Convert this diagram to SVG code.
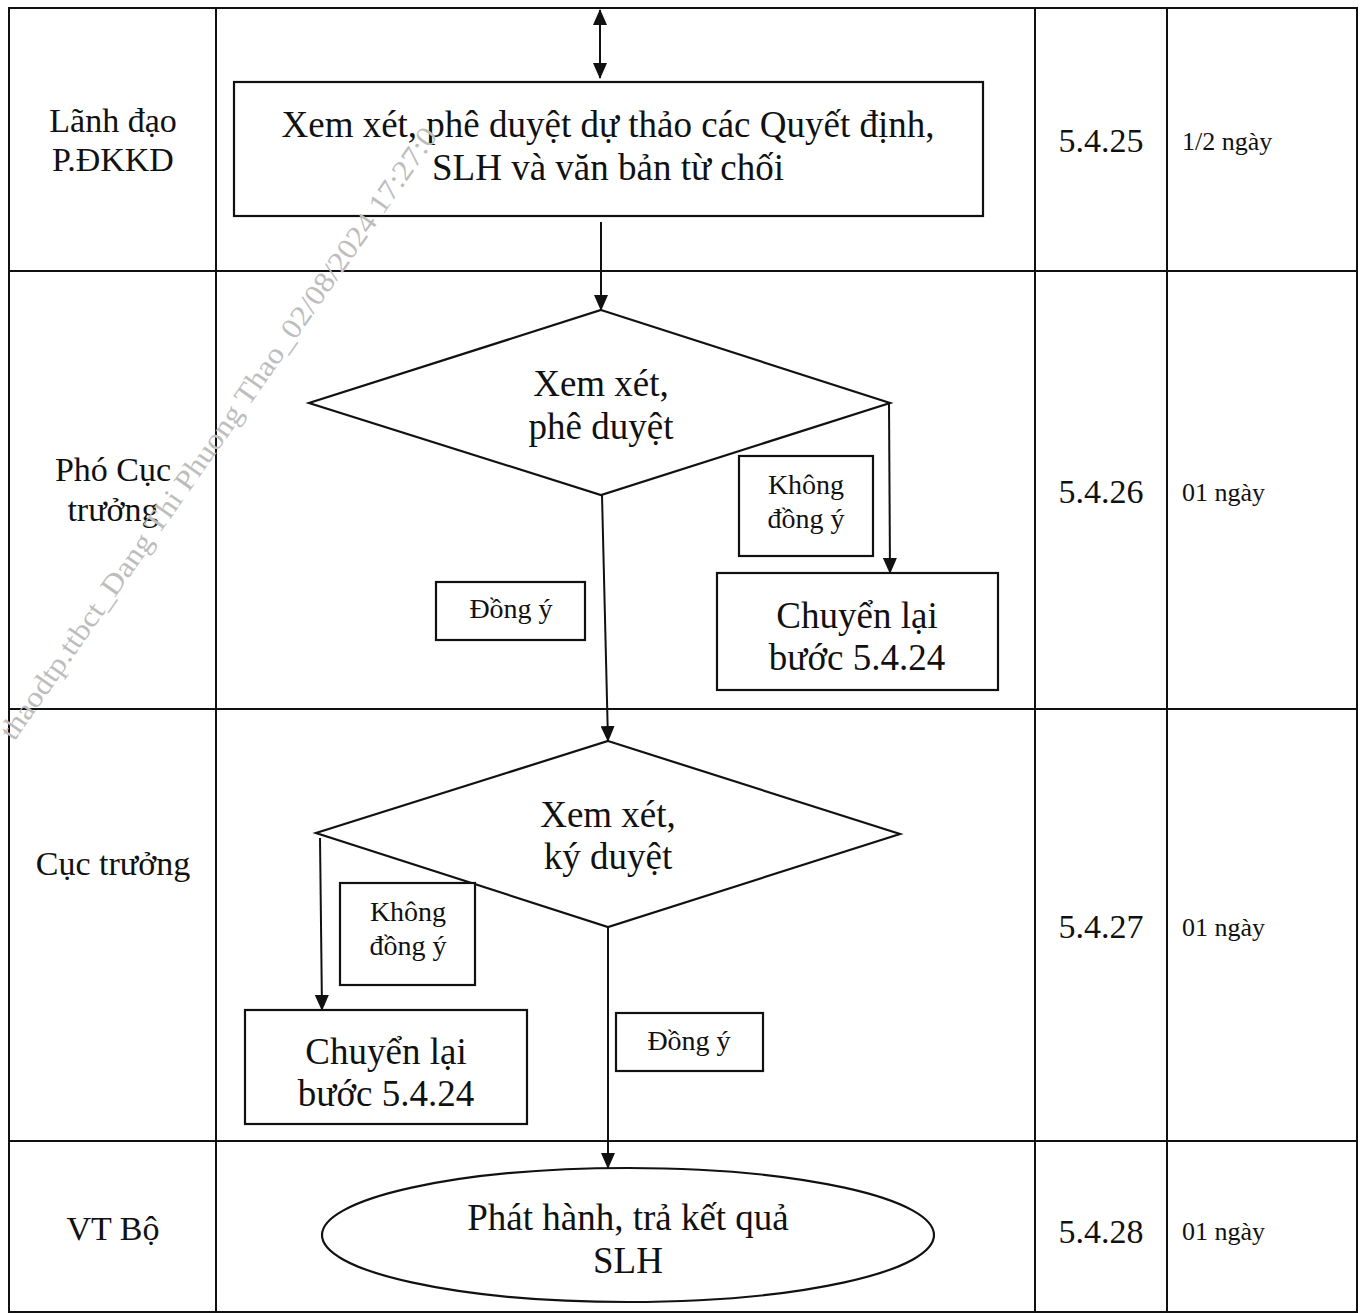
<svg xmlns="http://www.w3.org/2000/svg" width="1365" height="1313" viewBox="0 0 1365 1313">
<defs>
<style>
text{font-family:"Liberation Serif","Times New Roman",serif;fill:#111;text-anchor:middle}
.grid{stroke:#111;stroke-width:2;fill:none}
.shape{stroke:#111;stroke-width:2.2;fill:#fff}
.conn{stroke:#111;stroke-width:2;fill:none}
.main{font-size:37px}
.lane{font-size:34px}
.code{font-size:34px}
.dur{font-size:26px;text-anchor:start}
.lbl{font-size:28px}
.wm{font-size:29px;fill:#bdbdbd;text-anchor:start}
</style>
<marker id="ah" markerUnits="userSpaceOnUse" markerWidth="16" markerHeight="14" refX="15" refY="7" orient="auto-start-reverse" viewBox="0 0 16 14">
<path d="M0,0 L16,7 L0,14 z" fill="#111"/>
</marker>
</defs>
<rect width="1365" height="1313" fill="#fff"/>
<g id="table">
<rect class="grid" x="9" y="8" width="1348" height="1304"/>
<line class="grid" x1="216" y1="8" x2="216" y2="1313"/>
<line class="grid" x1="1035" y1="8" x2="1035" y2="1313"/>
<line class="grid" x1="1167" y1="8" x2="1167" y2="1313"/>
<line class="grid" x1="9" y1="271" x2="1357" y2="271"/>
<line class="grid" x1="9" y1="709" x2="1357" y2="709"/>
<line class="grid" x1="9" y1="1141" x2="1357" y2="1141"/>
</g>
<g id="lanes">
<text class="lane" x="113" y="132">Lãnh đạo</text>
<text class="lane" x="113" y="171">P.ĐKKD</text>
<text class="lane" x="113" y="481">Phó Cục</text>
<text class="lane" x="113" y="521">trưởng</text>
<text class="lane" x="113" y="875">Cục trưởng</text>
<text class="lane" x="113" y="1240">VT Bộ</text>
</g>
<g id="codes">
<text class="code" x="1101" y="152">5.4.25</text>
<text class="code" x="1101" y="503">5.4.26</text>
<text class="code" x="1101" y="938">5.4.27</text>
<text class="code" x="1101" y="1243">5.4.28</text>
<text class="dur" x="1182" y="150">1/2 ngày</text>
<text class="dur" x="1182" y="501">01 ngày</text>
<text class="dur" x="1182" y="936">01 ngày</text>
<text class="dur" x="1182" y="1240">01 ngày</text>
</g>
<g id="connectors">
<line class="conn" x1="600" y1="10" x2="600" y2="78" marker-start="url(#ah)" marker-end="url(#ah)"/>
<line class="conn" x1="601" y1="222" x2="601" y2="310" marker-end="url(#ah)"/>
<line class="conn" x1="602" y1="495" x2="608" y2="741" marker-end="url(#ah)"/>
<line class="conn" x1="889" y1="403" x2="890" y2="573" marker-end="url(#ah)"/>
<line class="conn" x1="320" y1="838" x2="322" y2="1010" marker-end="url(#ah)"/>
<line class="conn" x1="608" y1="927" x2="608" y2="1168" marker-end="url(#ah)"/>
</g>
<g id="n-box1">
<rect class="shape" x="234" y="82" width="749" height="134"/>
<text class="main" x="608" y="137">Xem xét, phê duyệt dự thảo các Quyết định,</text>
<text class="main" x="608" y="180">SLH và văn bản từ chối</text>
</g>
<g id="n-dec1">
<polygon class="shape" points="601,310 890,403 601,495 309,403"/>
<text class="main" x="601" y="396">Xem xét,</text>
<text class="main" x="601" y="439">phê duyệt</text>
</g>
<g id="n-no1">
<rect class="shape" x="739" y="456" width="134" height="100"/>
<text class="lbl" x="806" y="494">Không</text>
<text class="lbl" x="806" y="528">đồng ý</text>
</g>
<g id="n-back1">
<rect class="shape" x="717" y="573" width="281" height="117"/>
<text class="main" x="857" y="628">Chuyển lại</text>
<text class="main" x="857" y="670">bước 5.4.24</text>
</g>
<g id="n-yes1">
<rect class="shape" x="436" y="582" width="149" height="58"/>
<text class="lbl" x="511" y="618">Đồng ý</text>
</g>
<g id="n-dec2">
<polygon class="shape" points="608,741 900,834 608,927 316,833"/>
<text class="main" x="608" y="827">Xem xét,</text>
<text class="main" x="608" y="869">ký duyệt</text>
</g>
<g id="n-no2">
<rect class="shape" x="340" y="883" width="135" height="102"/>
<text class="lbl" x="408" y="921">Không</text>
<text class="lbl" x="408" y="955">đồng ý</text>
</g>
<g id="n-back2">
<rect class="shape" x="245" y="1010" width="282" height="114"/>
<text class="main" x="386" y="1064">Chuyển lại</text>
<text class="main" x="386" y="1106">bước 5.4.24</text>
</g>
<g id="n-yes2">
<rect class="shape" x="616" y="1013" width="147" height="58"/>
<text class="lbl" x="689" y="1050">Đồng ý</text>
</g>
<g id="n-end">
<ellipse class="shape" cx="628" cy="1235" rx="306" ry="67"/>
<text class="main" x="628" y="1230">Phát hành, trả kết quả</text>
<text class="main" x="628" y="1273">SLH</text>
</g>
<g id="watermark">
<text class="wm" transform="translate(14,742) rotate(-55)" textLength="740" lengthAdjust="spacingAndGlyphs">thaodtp.ttbct_Dang Thi Phuong Thao_02/08/2024 17:27:0</text>
</g>
</svg>
